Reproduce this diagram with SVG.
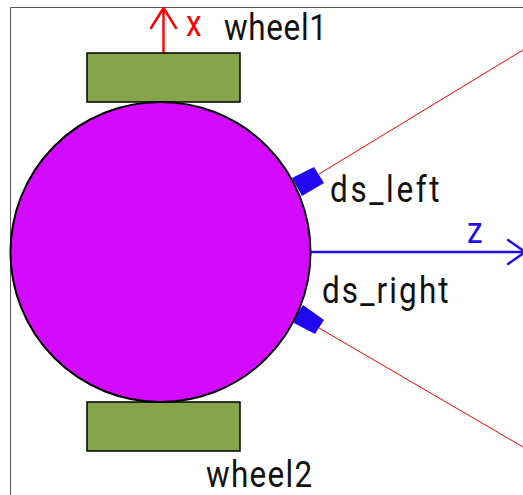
<svg xmlns="http://www.w3.org/2000/svg" width="523" height="495" viewBox="0 0 523 495">
<style>
text{font-family:"Roboto","Liberation Sans",sans-serif;font-size:37px;font-weight:400;fill:#111}
.wheel{fill:#86a44a;stroke:#000;stroke-width:1.5}
.sensor{fill:#2008f0}
.ray{stroke:#ff0000;stroke-width:1;fill:none}
.x{stroke:#ff0000;stroke-width:2.4;fill:none;stroke-linecap:round;stroke-linejoin:round}
.z{stroke:#2010f0;stroke-width:2.4;fill:none;stroke-linecap:round;stroke-linejoin:round}
</style>
<rect width="523" height="495" fill="#fff"/>
<path d="M10.5 495V7.5H523" fill="none" stroke="#555" stroke-width="1"/>
<g id="connectors">
<path class="ray" d="M319 174L523 50"/>
<path class="ray" d="M319 328L523 447"/>
<path class="x" d="M163.500 52V8M151 28L163.500 8L176 28"/>
<path class="z" d="M311 252H525M508 240L525 252L508 264"/>
</g>
<g id="wheel1"><rect class="wheel" x="87" y="53" width="153" height="49"/></g>
<g id="wheel2"><rect class="wheel" x="87" y="402" width="153" height="49"/></g>
<g id="ds_left"><polygon class="sensor" points="314,167 324,183 302,196 292,178"/></g>
<g id="ds_right"><polygon class="sensor" points="303,305 324,320 315,334 292,322"/></g>
<g id="body"><circle cx="160.500" cy="252" r="150" fill="#d40aff" stroke="#000" stroke-width="2"/></g>
<g id="labels">
<text transform="translate(224 40) scale(.85 1)" textLength="121" lengthAdjust="spacing">wheel1</text>
<text transform="translate(206 487) scale(.85 1)" textLength="125" lengthAdjust="spacing">wheel2</text>
<text transform="translate(330 202) scale(.85 1)" textLength="129" lengthAdjust="spacing">ds_left</text>
<text transform="translate(322 303) scale(.85 1)" textLength="149" lengthAdjust="spacing">ds_right</text>
<text transform="translate(186 36) scale(.85 1)" style="fill:#ff0000">x</text>
<text transform="translate(467 243) scale(.85 1)" style="fill:#2010f0">z</text>
</g>
</svg>
